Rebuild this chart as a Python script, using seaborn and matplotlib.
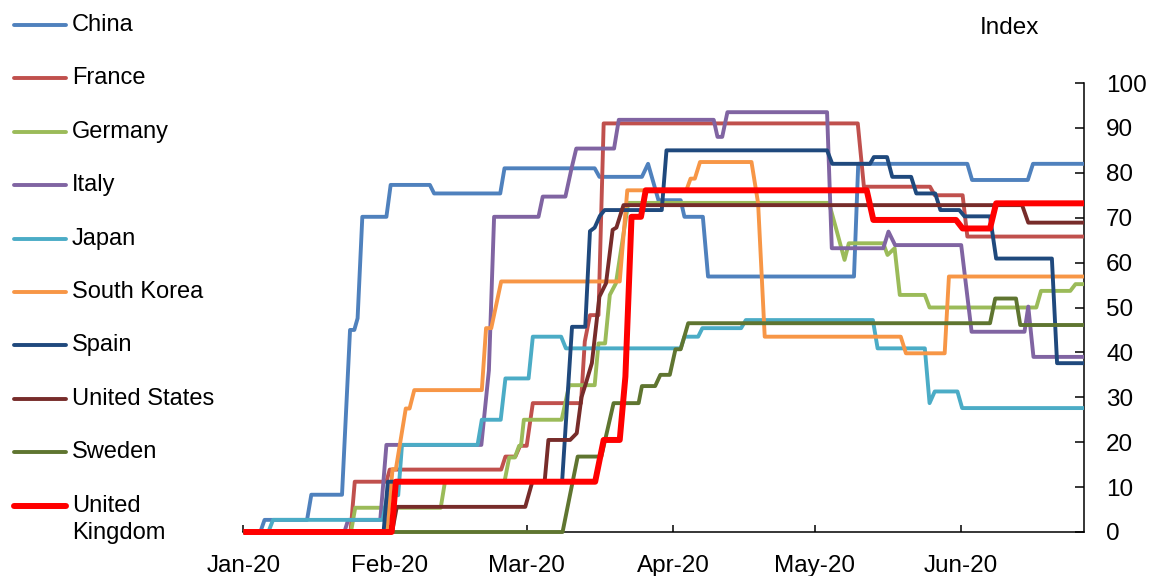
import numpy as np
import pandas as pd
import matplotlib
matplotlib.use("Agg")
import matplotlib.pyplot as plt
import matplotlib.dates as mdates
from matplotlib.lines import Line2D
import seaborn as sns

# ---------------- data (days since 1 Jan 2020, index value) ----------------
countries = ["China", "France", "Germany", "Italy", "Japan", "South Korea",
             "Spain", "United States", "Sweden", "United Kingdom"]
legend_labels = ["China", "France", "Germany", "Italy", "Japan", "South Korea",
                 "Spain", "United States", "Sweden", "United\nKingdom"]
colors = ["#4F81BD", "#C0504D", "#9BBB59", "#8064A2", "#4BACC6", "#F79646",
          "#1F497D", "#772C2A", "#5F7530", "#FF0000"]

china_day = [0, 3.6, 4.5, 13.5, 14.4, 20.9, 22.6, 23.5, 24.2, 25.2, 30.3, 31.2, 39.5, 40.4,
             54.4, 55.3, 74.4, 75.4, 84.4, 85.7, 87.9, 92.6, 93.4, 97.3, 98.4, 129.3, 130.2,
             153.3, 154.3, 166.1, 167.2, 178]
china_val = [0, 0, 2.7, 2.7, 8.3, 8.3, 45, 45, 47.6, 70.2, 70.2, 77.3, 77.3, 75.4,
             75.4, 81, 81, 79.1, 79.1, 82, 73.9, 73.9, 70.2, 70.2, 56.9, 56.9, 82,
             82, 78.4, 78.4, 82, 82]

france_day = [0, 22.7, 23.6, 30.3, 31.0, 54.6, 55.5, 57.6, 58.6, 60.0, 61.3, 71.5, 72.3,
              73.4, 75.2, 76.3, 130.1, 131.4, 145.4, 146.4, 152.3, 153.3, 178]
france_val = [0, 0, 11.2, 11.2, 13.9, 13.9, 16.8, 16.8, 19.2, 19.2, 28.7, 28.7, 42.4,
              48.3, 48.3, 91, 91, 76.9, 76.9, 75, 75, 65.8, 65.8]

germany_day = [0, 22.8, 23.7, 41.8, 42.7, 55.3, 56.3, 57.5, 58.4, 58.8, 59.4, 67.4, 69.0,
               74.4, 75.2, 76.6, 77.6, 78.9, 81.5, 124.0, 125.4, 127.3, 128.2, 135.5,
               136.4, 137.9, 139.0, 144.3, 145.3, 167.9, 168.9, 175.1, 176.2, 178]
germany_val = [0, 0, 5.4, 5.4, 11.2, 11.2, 16.6, 16.6, 19.2, 19.2, 25, 25, 32.7,
               32.7, 42, 42, 52.8, 55.4, 73.3, 73.3, 68, 60.6, 64.3, 64.3,
               61.7, 63.2, 52.8, 52.8, 50, 50, 53.7, 53.7, 55.2, 55.2]

italy_day = [0, 21.4, 22.2, 29.0, 30.3, 50.4, 52.0, 53.1, 62.5, 63.4, 68.2, 69.5, 70.5,
             78.5, 79.5, 99.6, 100.4, 101.4, 102.5, 123.6, 124.6, 135.5, 136.6, 138.0,
             152.0, 154.2, 165.4, 166.2, 167.3, 178]
italy_val = [0, 0, 2.7, 2.7, 19.4, 19.4, 36, 70.2, 70.2, 74.7, 74.7, 81, 85.4,
             85.4, 91.8, 91.8, 88, 88, 93.5, 93.5, 63.2, 63.2, 66.9, 63.9,
             63.9, 44.6, 44.6, 50.2, 39, 39]

japan_day = [0, 5.3, 6.3, 29.5, 30.5, 32.8, 33.6, 49.6, 50.5, 54.5, 55.5, 60.4, 61.3,
             67.3, 68.3, 92.6, 93.4, 96.3, 97.2, 105.4, 106.4, 133.3, 134.3, 144.3,
             145.3, 146.4, 151.2, 152.2, 178]
japan_val = [0, 0, 2.7, 2.7, 8.2, 8.2, 19.4, 19.4, 25, 25, 34.2, 34.2, 43.5,
             43.5, 40.9, 40.9, 43.5, 43.5, 45.4, 45.4, 47.2, 47.2, 40.9, 40.9,
             28.7, 31.3, 31.3, 27.6, 27.6]

korea_day = [0, 30.4, 31.6, 32.3, 34.4, 35.2, 36.2, 50.5, 51.4, 52.5, 54.6, 79.7, 81.3,
             93.8, 94.7, 95.6, 96.7, 107.6, 109.0, 110.4, 139.2, 140.3, 148.5, 149.4, 178]
korea_val = [0, 0, 14, 14, 27.5, 27.5, 31.6, 31.6, 45.4, 45.4, 55.8, 55.8, 76.1,
             76.1, 78.7, 78.7, 82.4, 82.4, 73.2, 43.5, 43.5, 39.8, 39.8, 56.9, 56.9]

spain_day = [0, 29.7, 30.6, 67.5, 69.6, 72.4, 73.4, 74.4, 75.5, 76.5, 88.6, 89.6, 123.6,
             124.7, 132.7, 133.5, 136.3, 137.4, 141.4, 142.5, 146.5, 147.6, 151.6, 152.7,
             158.1, 159.4, 171.2, 172.3, 178]
spain_val = [0, 0, 11.2, 11.2, 45.7, 45.7, 67, 67.8, 70.4, 71.7, 71.7, 85, 85,
             82, 82, 83.5, 83.5, 79.1, 79.1, 75.4, 75.4, 71.7, 71.7, 70.3,
             70.3, 60.9, 60.9, 37.6, 37.6]

us_day = [0, 31.5, 32.5, 59.7, 61.2, 63.8, 64.6, 69.2, 70.6, 71.6, 72.5, 73.8, 75.4,
          76.8, 78.2, 79.0, 80.5, 164.9, 166.2, 178]
us_val = [0, 0, 5.6, 5.6, 11.2, 11.2, 20.5, 20.5, 22, 30, 33, 37.6, 52.4,
          55.4, 67.3, 67.8, 72.8, 72.8, 68.9, 68.9]

sweden_day = [0, 67.6, 70.8, 75.8, 78.4, 83.7, 84.4, 87.2, 88.3, 90.3, 91.5, 92.6, 94.2,
              158.1, 159.2, 163.6, 164.5, 178]
sweden_val = [0, 0, 16.8, 16.8, 28.7, 28.7, 32.5, 32.5, 35, 35, 40.7, 40.7, 46.5,
              46.5, 52, 52, 46.1, 46.1]

uk_day = [0, 31.4, 32.3, 74.5, 76.3, 79.7, 80.9, 82.2, 84.2, 85.2, 132.0, 133.4, 150.9,
          152.3, 158.1, 159.4, 178]
uk_val = [0, 0, 11.2, 11.2, 20.5, 20.5, 34.6, 70.2, 70.2, 76.1, 76.1, 69.5, 69.5,
          67.6, 67.6, 73.2, 73.2]

series_days = [china_day, france_day, germany_day, italy_day, japan_day, korea_day,
               spain_day, us_day, sweden_day, uk_day]
series_vals = [china_val, france_val, germany_val, italy_val, japan_val, korea_val,
               spain_val, us_val, sweden_val, uk_val]

y_ticks = list(range(0, 101, 10))
start_date = pd.Timestamp("2020-01-01")
end_date = pd.Timestamp("2020-06-27")

frames = []
for name, d, v in zip(countries, series_days, series_vals):
    frames.append(pd.DataFrame({
        "date": start_date + pd.to_timedelta(np.array(d, dtype=float), unit="D"),
        "value": v,
        "country": name,
    }))
df = pd.concat(frames, ignore_index=True)

# ---------------- figure ----------------
sns.set_style("white")
plt.rcParams["font.family"] = ["Liberation Sans", "DejaVu Sans"]
plt.rcParams["font.size"] = 17.5
plt.rcParams["text.color"] = "black"
plt.rcParams["xtick.color"] = "black"
plt.rcParams["ytick.color"] = "black"

fig = plt.figure(figsize=(11.52, 5.76), dpi=100)
W, H = 1152, 576
ax = fig.add_axes([243.3 / W, 44 / H, (1084 - 243.3) / W, 449 / H])

for i, (name, col) in enumerate(zip(countries, colors)):
    lw = 4.3 if name == "United Kingdom" else 2.8
    sns.lineplot(data=df[df["country"] == name], x="date", y="value", color=col,
                 linewidth=lw, estimator=None, legend=False, ax=ax,
                 zorder=3 + i * 0.01, clip_on=False,
                 solid_joinstyle="round", solid_capstyle="butt")

ax.set_xlim(start_date, end_date)
ax.set_ylim(0, 100)
ax.set_xlabel("")
ax.set_ylabel("")
ax.set_yticks(y_ticks)
ax.yaxis.tick_right()
ax.xaxis.set_major_locator(mdates.MonthLocator())
ax.xaxis.set_major_formatter(mdates.DateFormatter("%b-%y"))

for s in ["left", "top"]:
    ax.spines[s].set_visible(False)
for s in ["right", "bottom"]:
    ax.spines[s].set_visible(True)
    ax.spines[s].set_color("black")
    ax.spines[s].set_linewidth(1.1)
    ax.spines[s].set_zorder(2.5)

ax.tick_params(axis="x", direction="in", length=5, width=1.1, color="black",
               pad=16.5, labelsize=17.5, labelcolor="black", bottom=True)
ax.tick_params(axis="y", direction="in", length=6.5, width=1.1, color="black",
               pad=16, labelsize=17.5, labelcolor="black", right=True, left=False)
ax.grid(False)

fig.text(1009 / W, 1 - 28 / H, "Index", ha="center", va="center", fontsize=17.5,
         color="black")

# legend (left side)
row_y = [25 + 53.4 * i for i in range(len(countries))]
for name, lab, col, yy in zip(countries, legend_labels, colors, row_y):
    lw = 4.3 if name == "United Kingdom" else 2.8
    fig.add_artist(Line2D([14 / W, 66 / W], [1 - yy / H, 1 - yy / H], color=col,
                          linewidth=lw, solid_capstyle="round",
                          transform=fig.transFigure))
    if "\n" in lab:
        fig.text(72 / W, 1 - (yy + 14) / H, lab, ha="left", va="center",
                 fontsize=17, linespacing=1.25, color="black")
    else:
        fig.text(72 / W, 1 - yy / H, lab, ha="left", va="center", fontsize=17,
                 color="black")

fig.savefig("out.png", dpi=100)
